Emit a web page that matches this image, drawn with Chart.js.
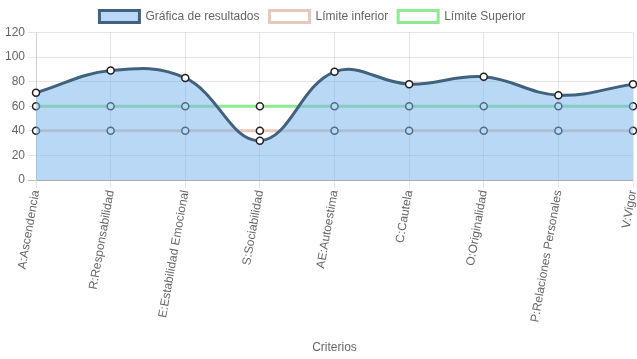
<!DOCTYPE html>
<html>
<head>
<meta charset="utf-8">
<script src="https://cdn.jsdelivr.net/npm/chart.js@4.4.1/dist/chart.umd.min.js"></script>
<style>
  html, body { margin: 0; padding: 0; background: #fff; }
  #wrap { width: 637px; height: 359px; position: relative; }
</style>
</head>
<body>
<div id="wrap"><canvas id="chart"></canvas></div>
<script>
const criterios = [
  'A:Ascendencia', 'R:Responsabilidad', 'E:Estabilidad Emocional', 'S:Sociabilidad',
  'AE:Autoestima', 'C:Cautela', 'O:Originalidad', 'P:Relaciones Personales', 'V:Vigor'
];
const resultados = [71, 89, 83, 32, 88, 78, 84, 69, 78];
const limiteInferior = [40, 40, 40, 40, 40, 40, 40, 40, 40];
const limiteSuperior = [60, 60, 60, 60, 60, 60, 60, 60, 60];
const yTicks = [0, 20, 40, 60, 80, 100, 120];

Chart.defaults.font.family = '"Liberation Sans", Arial, sans-serif';
Chart.defaults.font.size = 12;
Chart.defaults.color = '#666';

// shared point look for all three lines
const puntos = {
  pointRadius: 3.5,
  pointBorderWidth: 1.5,
  pointBackgroundColor: '#fff',
  pointBorderColor: '#222'
};

// legend sits a few px left of centre in the original
const moverLeyenda = {
  id: 'moverLeyenda',
  afterLayout(chart) {
    chart.legend.left -= 5;
    chart.legend.right -= 5;
  }
};

const ctx = document.getElementById('chart').getContext('2d');
new Chart(ctx, {
  type: 'line',
  data: {
    labels: criterios,
    datasets: [
      {
        label: 'Gráfica de resultados',
        data: resultados,
        borderColor: '#41627f',
        backgroundColor: 'rgba(120, 180, 238, 0.52)',
        borderWidth: 3,
        fill: 'origin',
        tension: 0.4,
        ...puntos
      },
      {
        label: 'Límite inferior',
        data: limiteInferior,
        borderColor: 'rgb(232, 200, 186)',
        backgroundColor: 'rgba(255,255,255,0)',
        borderWidth: 3,
        fill: false,
        tension: 0,
        ...puntos
      },
      {
        label: 'Límite Superior',
        data: limiteSuperior,
        borderColor: 'rgb(144, 232, 144)',
        backgroundColor: 'rgba(255,255,255,0)',
        borderWidth: 3,
        fill: false,
        tension: 0,
        ...puntos
      }
    ]
  },
  plugins: [moverLeyenda],
  options: {
    responsive: true,
    maintainAspectRatio: false,
    animation: false,
    layout: { autoPadding: false, padding: { left: 2, right: 4, top: 0.5, bottom: 0 } },
    plugins: {
      legend: {
        position: 'top',
        labels: { boxWidth: 40, boxHeight: 12, padding: 10, color: '#666' }
      },
      tooltip: { enabled: false }
    },
    scales: {
      x: {
        grid: { color: 'rgba(0,0,0,0.1)', tickLength: 8 },
        ticks: { minRotation: 80, maxRotation: 80, autoSkip: false, padding: 1, color: '#666' },
        title: { display: true, text: 'Criterios', color: '#666', padding: { top: 4, bottom: 4 } },
        afterFit: s => { s.paddingRight = 0; s.height = 179; }
      },
      y: {
        min: 0,
        max: 120,
        grid: {
          color: c => (c.tick && c.tick.value === 0) ? 'rgba(0,0,0,0.25)' : 'rgba(0,0,0,0.1)',
          tickLength: 8
        },
        afterBuildTicks: axis => { axis.ticks = yTicks.map(v => ({ value: v })); },
        ticks: { color: '#666', padding: 3 }
      }
    }
  }
});
</script>
</body>
</html>
